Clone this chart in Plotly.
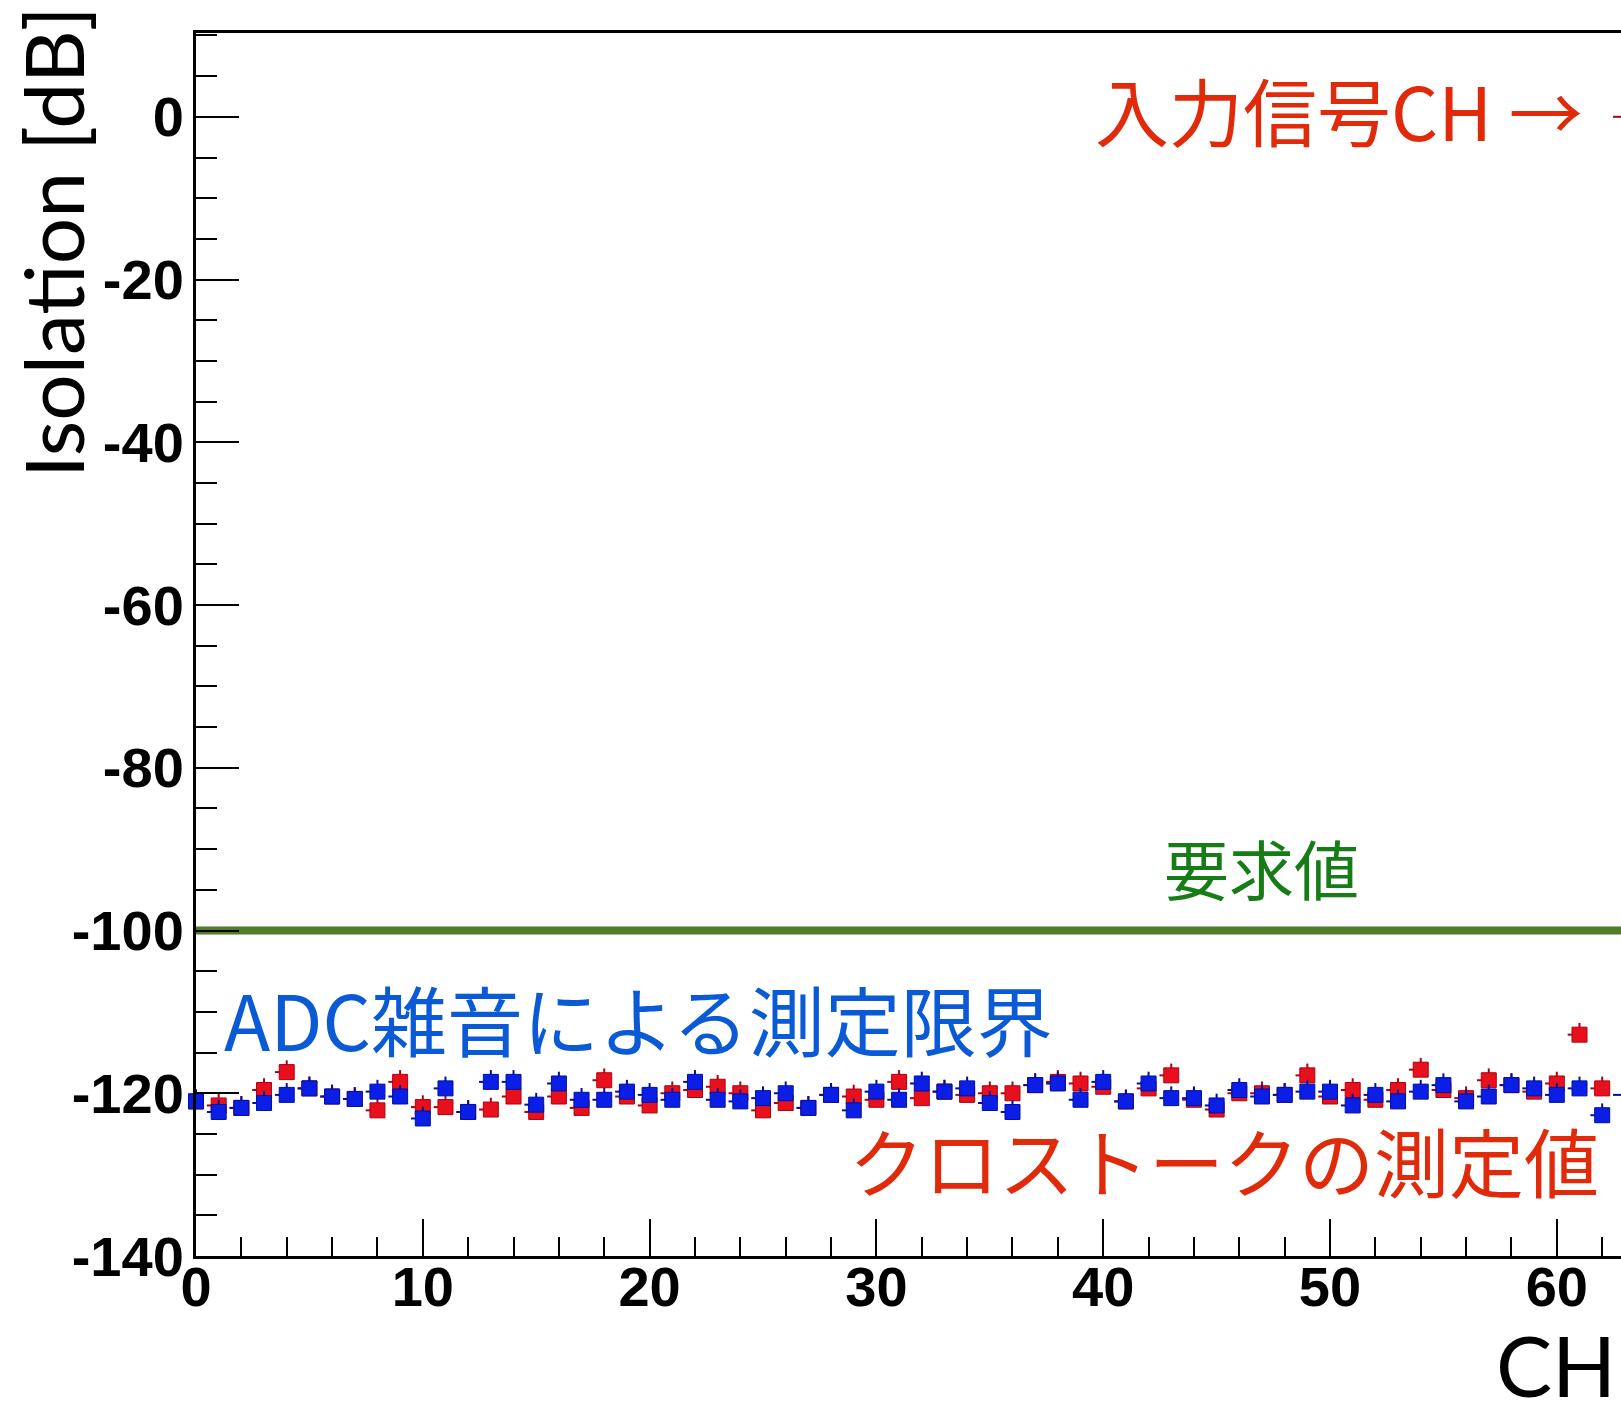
import plotly.graph_objects as go

# ---------------- data ----------------
channels = list(range(64))
crosstalk_red = [
    -121.0, -121.5, -121.8, -119.6, -117.4, -119.4, -120.4, -120.7, -122.1, -118.6,
    -121.7, -121.7, -122.3, -122.0, -120.4, -122.3, -120.4, -121.8, -118.4, -120.4,
    -121.5, -120.0, -119.6, -119.2, -120.0, -122.1, -121.2, -121.8, -120.2, -120.4,
    -120.8, -118.6, -120.6, -119.8, -120.2, -120.0, -120.0, -119.0, -118.6, -118.8,
    -119.2, -121.0, -119.4, -117.8, -120.8, -122.0, -120.0, -120.0, -120.2, -117.8,
    -120.4, -119.6, -120.8, -119.6, -117.1, -119.6, -120.6, -118.4, -119.0, -119.8,
    -118.8, -112.8, -119.4, 0.0,
]
adc_noise_blue = [
    -121.0, -122.3, -121.8, -121.2, -120.2, -119.4, -120.4, -120.7, -119.8, -120.4,
    -123.1, -119.4, -122.3, -118.6, -118.6, -121.4, -118.8, -120.8, -120.8, -119.8,
    -120.2, -120.8, -118.6, -120.8, -121.0, -120.6, -120.0, -121.8, -120.2, -122.1,
    -119.8, -120.8, -118.8, -119.8, -119.4, -121.2, -122.3, -119.0, -118.8, -120.8,
    -118.6, -121.0, -118.8, -120.6, -120.6, -121.5, -119.6, -120.4, -120.2, -119.8,
    -119.8, -121.5, -120.2, -121.0, -119.8, -119.0, -121.0, -120.4, -119.0, -119.4,
    -120.2, -119.4, -122.7, -120.2,
]
requirement_db = -100
y_tick_vals = [0, -20, -40, -60, -80, -100, -120, -140]
y_tick_text = ["0", "-20", "-40", "-60", "-80", "-100", "-120", "-140"]
x_tick_vals = [0, 10, 20, 30, 40, 50, 60]
x_tick_text = ["0", "10", "20", "30", "40", "50", "60"]

# ---------------- layout geometry ----------------
W_FIG, H_FIG = 1621, 1419
L, T, R, B = 196, 33, 0, 163
PW, PH = W_FIG - L - R, H_FIG - T - B
X_MAX = 62.83
Y_MIN, Y_MAX = -140, 10.3


def px_x(px):
    return (px - L) / PW


def px_y(py):
    return (T + PH - py) / PH


RED = "#e8101c"
BLUE = "#0a1ee6"
TXT_RED = "#e02a0a"
TXT_BLUE = "#0a5ad6"
TXT_GREEN = "#167c16"
LINE_GREEN = "#517d2b"

STUB_Y = 1.45
STUB_X = 0.52


def series(y, color, edge):
    n = len(y)
    return go.Scatter(
        x=channels, y=y, mode="markers", cliponaxis=False, showlegend=False,
        marker=dict(symbol="square", size=15, color=color,
                    line=dict(width=1, color=edge)),
        error_y=dict(type="data", symmetric=False, array=[STUB_Y] * n,
                     arrayminus=[0] * n, width=0, thickness=2, color=edge),
        error_x=dict(type="data", symmetric=False, array=[0] * n,
                     arrayminus=[STUB_X] * n, width=0, thickness=2, color=edge),
    )


fig = go.Figure()
fig.add_trace(series(crosstalk_red, RED, "#b00010"))
fig.add_trace(series(adc_noise_blue, BLUE, "#0010a0"))

fig.add_shape(type="line", xref="paper", x0=0, x1=1, yref="y",
              y0=requirement_db, y1=requirement_db,
              line=dict(color=LINE_GREEN, width=8), layer="below")

tick_font = dict(family="Liberation Sans, Arial, sans-serif", size=56,
                 color="black", weight="bold")

fig.update_layout(
    width=W_FIG, height=H_FIG,
    margin=dict(l=L, r=R, t=T, b=B, pad=0),
    paper_bgcolor="white", plot_bgcolor="white",
    xaxis=dict(range=[0, X_MAX], showgrid=False, zeroline=False,
               showline=True, linecolor="black", linewidth=3, mirror=True,
               ticks="inside", ticklen=37, tickwidth=2, tickcolor="black",
               tickvals=x_tick_vals, ticktext=x_tick_text, tickfont=tick_font,
               ticklabelstandoff=-20,
               minor=dict(dtick=2, ticks="inside", ticklen=19, tickwidth=2,
                          tickcolor="black", showgrid=False)),
    yaxis=dict(range=[Y_MIN, Y_MAX], showgrid=False, zeroline=False,
               showline=True, linecolor="black", linewidth=3, mirror=False,
               ticks="inside", ticklen=43, tickwidth=2, tickcolor="black",
               tickvals=y_tick_vals, ticktext=y_tick_text, tickfont=tick_font,
               ticklabelstandoff=-2,
               minor=dict(dtick=5, tick0=0, ticks="inside", ticklen=21,
                          tickwidth=2, tickcolor="black", showgrid=False)),
)

cjk = "Noto Sans CJK JP"
annotations = [
    dict(text="Isolation [dB]", x=px_x(52), y=px_y(242), textangle=-90,
         xanchor="center", yanchor="middle",
         font=dict(family="Lato", size=82, color="black")),
    dict(text="CH", x=px_x(1618), y=px_y(1417), xanchor="right", yanchor="bottom",
         font=dict(family="Lato", size=84, color="black")),
    dict(text="入力信号CH →", x=px_x(1093), y=px_y(108), xanchor="left", yanchor="middle",
         font=dict(family=cjk, size=74, color=TXT_RED)),
    dict(text="要求値", x=px_x(1162), y=px_y(867), xanchor="left", yanchor="middle",
         font=dict(family=cjk, size=65, color=TXT_GREEN)),
    dict(text="ADC雑音による測定限界", x=px_x(222), y=px_y(1018), xanchor="left",
         yanchor="middle", font=dict(family=cjk, size=76, color=TXT_BLUE)),
    dict(text="クロストークの測定値", x=px_x(847), y=px_y(1159), xanchor="left",
         yanchor="middle", font=dict(family=cjk, size=75, color=TXT_RED)),
]
for a in annotations:
    fig.add_annotation(xref="paper", yref="paper", showarrow=False, **a)

fig.write_html(
    "out.html",
    config={"displayModeBar": False},
    post_script=(
        "document.documentElement.style.margin='0';"
        "document.documentElement.style.overflow='hidden';"
        "document.body.style.margin='0';"
        "document.body.style.overflow='hidden';"
    ),
)
